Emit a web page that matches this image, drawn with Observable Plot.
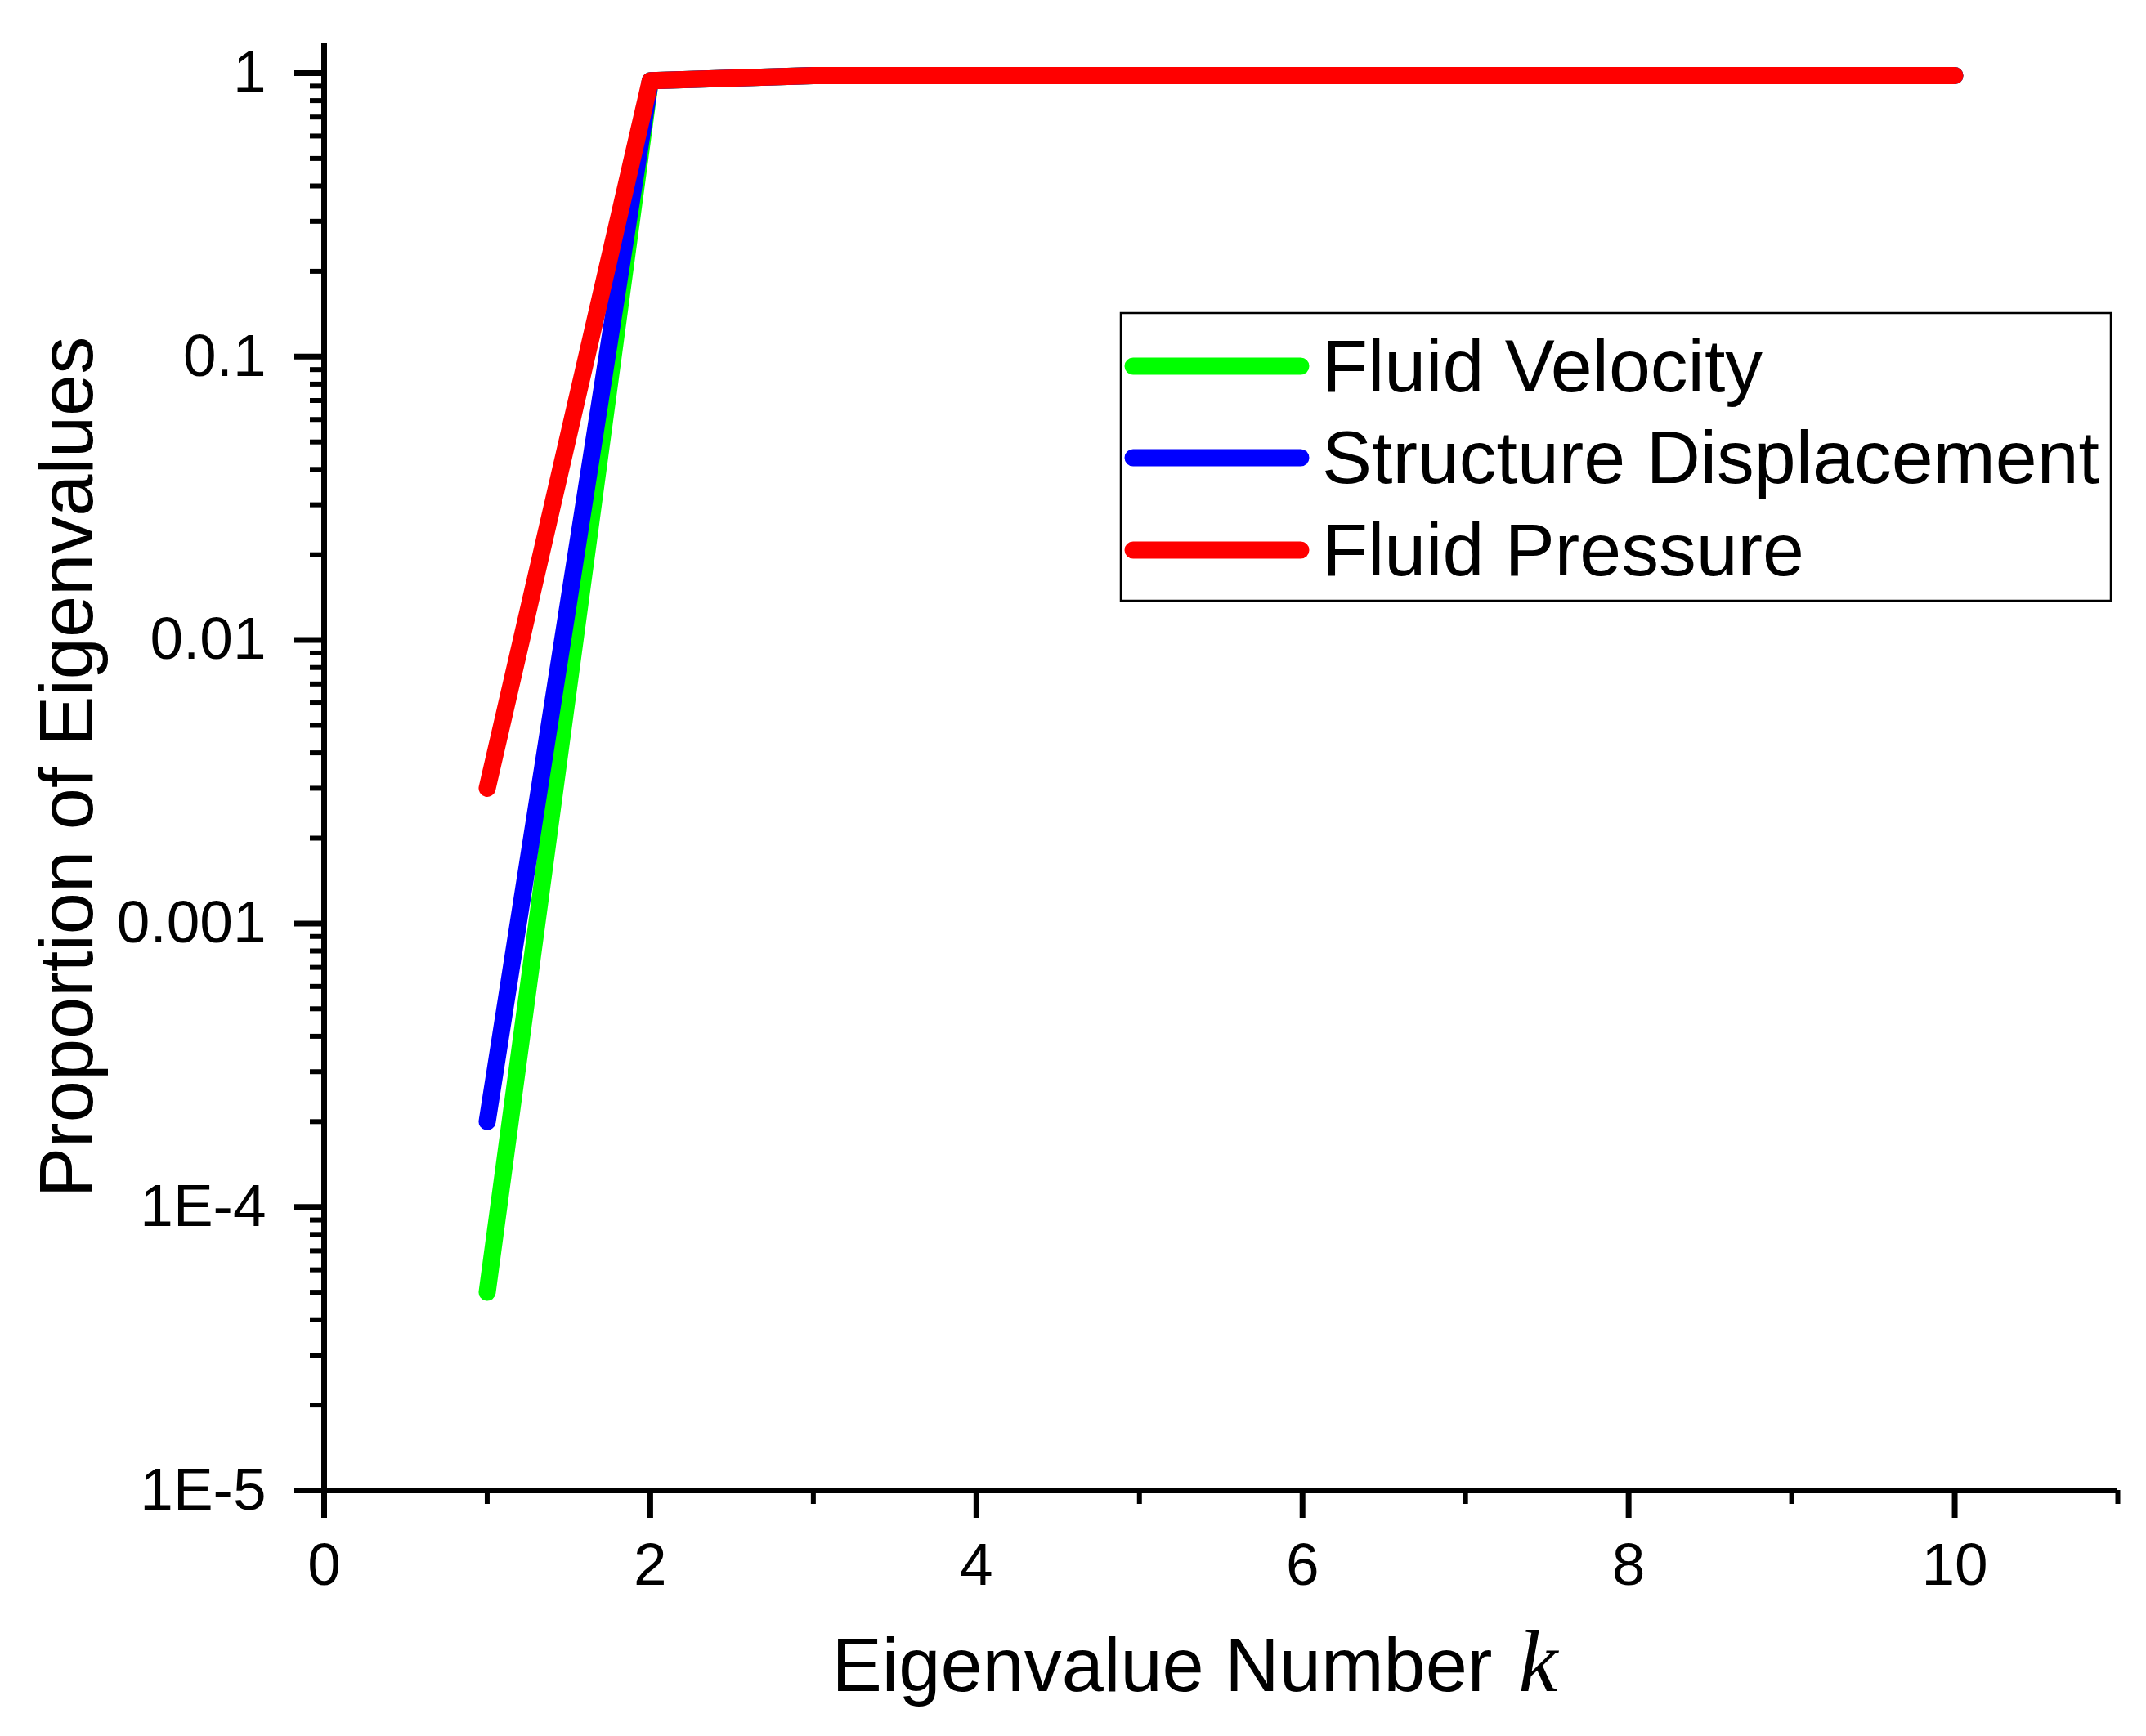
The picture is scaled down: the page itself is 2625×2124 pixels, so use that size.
<!DOCTYPE html>
<html>
<head>
<meta charset="utf-8">
<script src="https://cdn.jsdelivr.net/npm/d3@7"></script>
<script src="https://cdn.jsdelivr.net/npm/@observablehq/plot@0.6"></script>
<style>
  html, body { margin: 0; padding: 0; background: white; }
  #wrap { position: relative; width: 2625px; height: 2124px; }
  #legend { position: absolute; left: 0; top: 0; pointer-events: none; }
</style>
</head>
<body>
<div id="wrap"></div>
<script>
// ---- data ----
const ks = [1, 2, 3, 4, 5, 6, 7, 8, 9, 10];
const fluidVelocity        = [5e-5, 0.94, 0.98, 0.98, 0.98, 0.98, 0.98, 0.98, 0.98, 0.98];
const structureDisplacement = [2e-4, 0.94, 0.98, 0.98, 0.98, 0.98, 0.98, 0.98, 0.98, 0.98];
const fluidPressure        = [3e-3, 0.94, 0.98, 0.98, 0.98, 0.98, 0.98, 0.98, 0.98, 0.98];
const seriesNames  = ["Fluid Velocity", "Structure Displacement", "Fluid Pressure"];
const seriesColors = ["#00ff00", "#0000ff", "#ff0000"];
const seriesValues = [fluidVelocity, structureDisplacement, fluidPressure];

const xMajor = [0, 2, 4, 6, 8, 10];
const xMinor = [1, 3, 5, 7, 9, 11];
const yMajor = [1, 0.1, 0.01, 0.001, 1e-4, 1e-5];
const yTickLabels = ["1", "0.1", "0.01", "0.001", "1E-4", "1E-5"];
const yMinor = [];
for (const d of [1e-5, 1e-4, 1e-3, 1e-2, 1e-1]) for (let m = 2; m <= 9; m++) yMinor.push(+(d * m).toPrecision(3));

const xLabel = "Eigenvalue Number";
const xLabelVar = "k";
const yLabel = "Proportion of Eigenvalues";

const data = seriesNames.flatMap((name, s) => ks.map((k, i) => ({series: name, k, value: seriesValues[s][i]})));
const yLabelMap = new Map(yMajor.map((v, i) => [v, yTickLabels[i]]));

const W = 2625, H = 2124;
const mL = 396, mR = 35, mT = 53, mB = 301;
const font = "'Liberation Sans', Arial, sans-serif";

const plot = Plot.plot({
  width: W, height: H,
  marginLeft: mL, marginRight: mR, marginTop: mT, marginBottom: mB,
  style: {fontFamily: font, background: "white", color: "black", overflow: "visible"},
  x: {domain: [0, 11]},
  y: {type: "log", domain: [1e-5, 1.27]},
  color: {domain: seriesNames, range: seriesColors},
  marks: [
    Plot.axisX({ticks: xMajor, tickSize: 34, tickPadding: 30, strokeWidth: 7, fontSize: 73, label: null, tickFormat: d => String(d)}),
    Plot.axisX({ticks: xMinor, tickSize: 17, strokeWidth: 6, label: null, tickFormat: () => ""}),
    Plot.axisY({ticks: yMajor, tickSize: 36, tickPadding: 35, strokeWidth: 7, fontSize: 73, label: null, tickFormat: d => yLabelMap.get(d)}),
    Plot.axisY({ticks: yMinor, tickSize: 17, strokeWidth: 6, label: null, tickFormat: () => ""}),
    Plot.ruleX([0], {strokeWidth: 7}),
    Plot.ruleY([1e-5], {strokeWidth: 7}),
    Plot.line(data, {x: "k", y: "value", z: "series", stroke: "series", strokeWidth: 21, strokeLinecap: "round", strokeLinejoin: "round"}),
    Plot.text([yLabel], {frameAnchor: "left", rotate: -90, dx: -284, fontSize: 92, lineAnchor: "bottom", textAnchor: "middle"}),
    Plot.text([xLabel], {frameAnchor: "bottom", dx: 332, dy: 245, fontSize: 92, lineAnchor: "bottom", textAnchor: "end"}),
    Plot.text([xLabelVar], {frameAnchor: "bottom", dx: 364, dy: 245, fontSize: 108, lineAnchor: "bottom", textAnchor: "start", fontStyle: "italic", fontFamily: "'Liberation Serif', 'DejaVu Serif', serif"})
  ]
});
document.getElementById("wrap").appendChild(plot);

// ---- legend ----
const leg = d3.select("#wrap").append("svg").attr("id", "legend").attr("width", W).attr("height", H);
const box = {x: 1371, y: 383, w: 1211, h: 352};
leg.append("rect").attr("x", box.x).attr("y", box.y).attr("width", box.w).attr("height", box.h)
  .attr("fill", "white").attr("stroke", "black").attr("stroke-width", 2.5);
const rowCY = [65, 177, 290];
seriesNames.forEach((name, i) => {
  const cy = box.y + rowCY[i];
  leg.append("line").attr("x1", 1386).attr("x2", 1591).attr("y1", cy).attr("y2", cy)
    .attr("stroke", seriesColors[i]).attr("stroke-width", 21).attr("stroke-linecap", "round");
  leg.append("text").attr("x", 1617).attr("y", cy + 31).attr("font-family", font).attr("font-size", 91.5)
    .attr("fill", "black").text(name);
});
</script>
</body>
</html>
